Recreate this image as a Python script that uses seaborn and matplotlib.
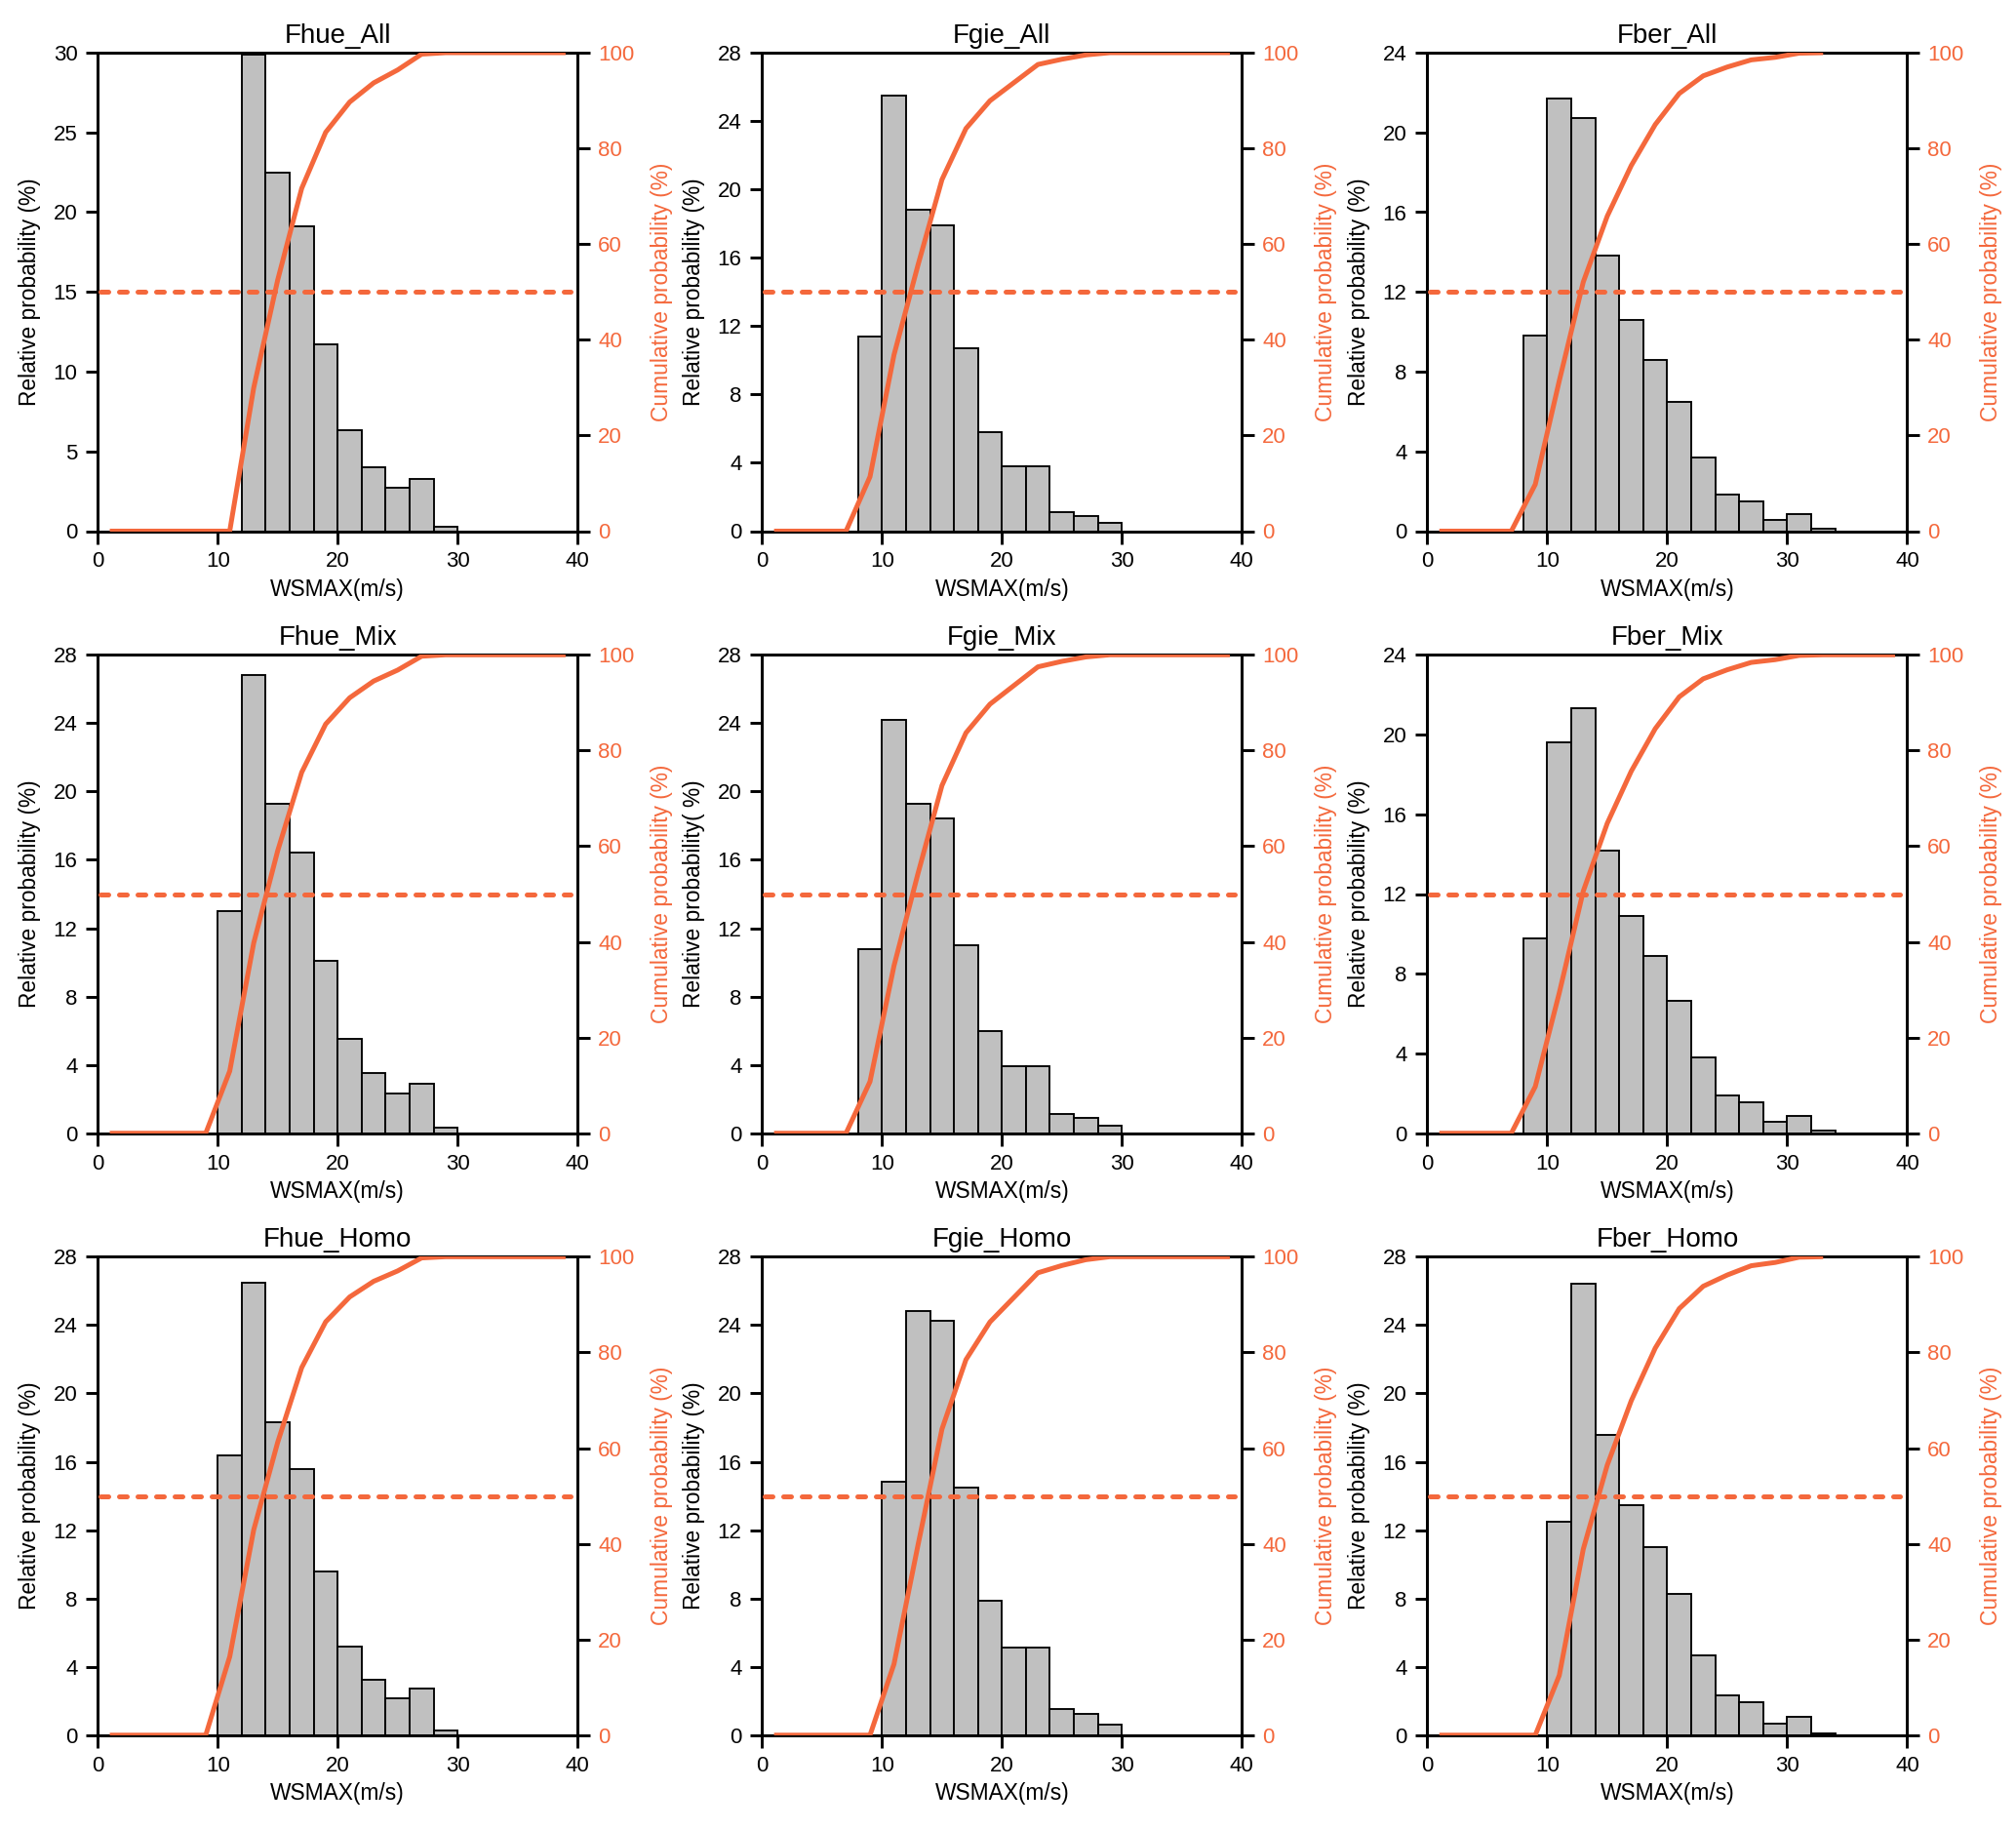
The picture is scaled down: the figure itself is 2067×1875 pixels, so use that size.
import numpy as np
import pandas as pd
import matplotlib
matplotlib.use("Agg")
import matplotlib.pyplot as plt
import seaborn as sns

# ---------------- data (relative probability per 2 m/s bin, %) ----------------
bin_width = 2
x_min, x_max = 0, 40

fhue_all = [0, 0, 0, 0, 0, 0, 29.9, 22.5, 19.1, 11.7, 6.3, 4.0, 2.7, 3.3, 0.3, 0, 0, 0, 0, 0]
fgie_all = [0, 0, 0, 0, 11.4, 25.5, 18.8, 17.9, 10.7, 5.8, 3.8, 3.8, 1.1, 0.9, 0.47, 0, 0, 0, 0, 0]
fber_all = [0, 0, 0, 0, 9.8, 21.7, 20.7, 13.8, 10.6, 8.6, 6.5, 3.7, 1.85, 1.5, 0.54, 0.87, 0.1]

fhue_mix = [0, 0, 0, 0, 0, 13.0, 26.8, 19.3, 16.4, 10.1, 5.5, 3.5, 2.3, 2.9, 0.3, 0, 0, 0, 0, 0]
fgie_mix = [0, 0, 0, 0, 10.8, 24.2, 19.3, 18.4, 11.0, 6.0, 3.9, 3.9, 1.15, 0.92, 0.45, 0, 0, 0, 0, 0]
fber_mix = [0, 0, 0, 0, 9.77, 19.6, 21.3, 14.2, 10.9, 8.9, 6.66, 3.78, 1.89, 1.54, 0.58, 0.89, 0.13, 0, 0, 0]

fhue_homo = [0, 0, 0, 0, 0, 16.4, 26.5, 18.3, 15.6, 9.57, 5.19, 3.27, 2.17, 2.72, 0.25, 0, 0, 0, 0, 0]
fgie_homo = [0, 0, 0, 0, 0, 14.85, 24.84, 24.24, 14.5, 7.86, 5.14, 5.14, 1.52, 1.22, 0.62, 0, 0, 0, 0, 0]
fber_homo = [0, 0, 0, 0, 0, 12.5, 26.4, 17.57, 13.47, 11.0, 8.26, 4.68, 2.35, 1.94, 0.69, 1.1, 0.1]

titles = [["Fhue_All", "Fgie_All", "Fber_All"],
          ["Fhue_Mix", "Fgie_Mix", "Fber_Mix"],
          ["Fhue_Homo", "Fgie_Homo", "Fber_Homo"]]
series = [[fhue_all, fgie_all, fber_all],
          [fhue_mix, fgie_mix, fber_mix],
          [fhue_homo, fgie_homo, fber_homo]]
left_ymax = [[30, 28, 24], [28, 28, 24], [28, 28, 28]]
left_ystep = [[5, 4, 4], [4, 4, 4], [4, 4, 4]]
left_labels = [["Relative probability (%)"] * 3,
               ["Relative probability (%)", "Relative probability( %)", "Relative probability (%)"],
               ["Relative probability (%)"] * 3]
right_label = "Cumulative probability (%)"
x_label = "WSMAX(m/s)"
x_ticks = [0, 10, 20, 30, 40]
right_ticks = [0, 20, 40, 60, 80, 100]
median_level = 50

# ---------------- style ----------------
sns.set_theme(style="ticks")
plt.rcParams["font.family"] = ["Liberation Sans", "DejaVu Sans"]
plt.rcParams["axes.linewidth"] = 1.4
plt.rcParams["text.color"] = "black"
plt.rcParams["axes.labelcolor"] = "black"
plt.rcParams["xtick.color"] = "black"
plt.rcParams["ytick.color"] = "black"

orange = "#F4683C"
bar_fill = "#C0C0C0"

W, H = 2067, 1875
dpi = 150
fig = plt.figure(figsize=(W / dpi, H / dpi), dpi=dpi)
fig.patch.set_facecolor("white")

col_left = [0.0485, 0.378, 0.708]
row_bottom = [0.7096, 0.3804, 0.0513]
ax_w, ax_h = 0.238, 0.2616

tick_fs = 10.7
label_fs = 10.9
title_fs = 13.3

for r in range(3):
    for c in range(3):
        vals = np.array(series[r][c], dtype=float)
        nb = len(vals)
        centers = np.arange(nb) * bin_width + bin_width / 2
        cum = np.cumsum(vals) / vals.sum() * 100.0
        df = pd.DataFrame({"ws": centers, "rel": vals, "cum": cum})

        ax = fig.add_axes([col_left[c], row_bottom[r], ax_w, ax_h])
        sns.histplot(data=df, x="ws", weights="rel", binwidth=bin_width,
                     binrange=(0, nb * bin_width), ax=ax,
                     color=bar_fill, edgecolor="black", linewidth=0.9, alpha=1.0)
        ax.set_xlim(x_min, x_max)
        ym = left_ymax[r][c]
        ax.set_ylim(0, ym)
        ax.set_xticks(x_ticks)
        ax.set_yticks(np.arange(0, ym + 0.1, left_ystep[r][c]))
        ax.tick_params(axis="both", direction="out", length=6, width=1.4,
                       labelsize=tick_fs, color="black", labelcolor="black", pad=4)
        ax.set_xlabel(x_label, fontsize=label_fs, labelpad=3, color="black")
        ax.set_ylabel(left_labels[r][c], fontsize=label_fs, labelpad=6, color="black")
        ax.set_title(titles[r][c], fontsize=title_fs, pad=5, color="black")
        for s in ax.spines.values():
            s.set_visible(True)
            s.set_linewidth(1.4)
            s.set_color("black")

        ax2 = ax.twinx()
        sns.lineplot(data=df, x="ws", y="cum", ax=ax2, color=orange,
                     linewidth=2.4, solid_capstyle="butt", zorder=5)
        ax2.axhline(median_level, color=orange, linewidth=2.4,
                    linestyle=(0, (1.6, 2.2)), dash_capstyle="round", zorder=4,
                    xmin=0.005, xmax=0.985)
        ax2.set_ylim(0, 100)
        ax2.set_xlim(x_min, x_max)
        ax2.set_yticks(right_ticks)
        ax2.tick_params(axis="y", direction="out", length=6, width=1.4,
                        labelsize=tick_fs, color="black", labelcolor=orange, pad=4)
        ax2.set_ylabel(right_label, fontsize=label_fs, color=orange, labelpad=8)
        ax2.set_xlabel("")
        for s in ax2.spines.values():
            s.set_linewidth(1.4)
            s.set_color("black")

fig.savefig("out.png", dpi=dpi, facecolor="white")
